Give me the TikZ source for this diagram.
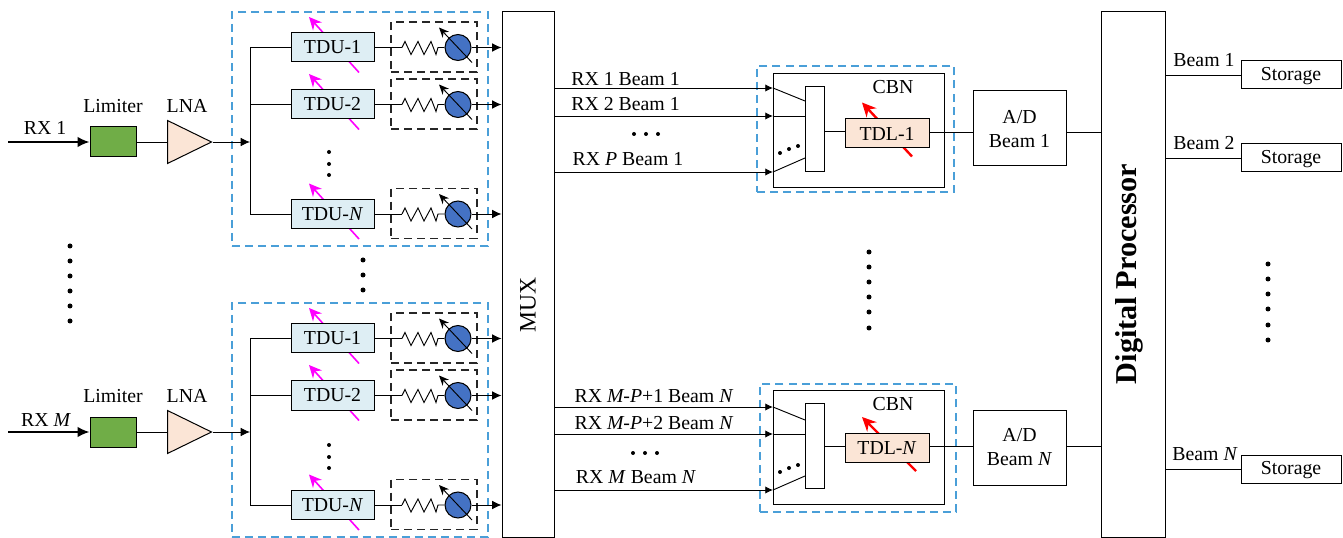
\documentclass[tikz,border=0pt]{standalone}
\usepackage{fontspec}
\setmainfont{Liberation Serif}
\usetikzlibrary{arrows.meta,shapes.geometric,calc}
\definecolor{blued}{HTML}{4A9FD8}
\definecolor{greenb}{HTML}{70AD47}
\definecolor{peach}{HTML}{FBE5D6}
\definecolor{tdublue}{HTML}{DEEEF4}
\definecolor{psblue}{HTML}{4472C4}
\definecolor{pinkm}{HTML}{FF00FF}
\definecolor{redm}{HTML}{FF0000}
\newcommand{\px}{0.75pt}
\tikzset{
  wire/.style={line width=0.7pt},
  arr/.style={line width=0.7pt,-{Latex[length=7pt,width=6.5pt]}},
  beamarr/.style={line width=0.7pt,-{Latex[length=5.8pt,width=5.5pt]}},
  box/.style={draw,line width=0.75pt,fill=white,inner sep=0pt},
  lbl/.style={inner sep=0pt,font=\fontsize{14.85}{17}\selectfont},
  bluedash/.style={draw=blued,line width=1pt,dash pattern=on 6pt off 3.8pt,inner sep=0pt},
  blackdash/.style={draw=black!85,line width=0.8pt,dash pattern=on 6pt off 3.8pt,inner sep=0pt},
  tdubox/.style={box,fill=tdublue,minimum width=83*\px,minimum height=29*\px,font=\fontsize{14.85}{17}\selectfont},
  tdlbox/.style={box,fill=peach,minimum width=84*\px,minimum height=29*\px,font=\fontsize{14.85}{17}\selectfont},
  storebox/.style={box,minimum width=100*\px,minimum height=28*\px,text height=10pt,text depth=1.8pt,font=\fontsize{14.85}{17}\selectfont},
  adbox/.style={box,minimum width=93*\px,minimum height=75*\px},
  pinkarrow/.style={draw=pinkm,line width=1.2pt,-{Stealth[length=9.5pt,width=9pt]}},
  redarrow/.style={draw=redm,line width=1.8pt,-{Stealth[length=10.5pt,width=10pt]}},
  tuner/.style={draw=black,line width=0.7pt,-{Stealth[length=7.5pt,width=6.5pt]}},
  dotm/.style={circle,fill=black,minimum size=5*\px,inner sep=0pt},
  dots/.style={circle,fill=black,minimum size=4*\px,inner sep=0pt},
}
\newcommand{\dotsat}[1]{\foreach \dx/\dy in {#1}{\node[dotm] (dot\dx-\dy) at (\dx,\dy) {};}}
\newcommand{\smalldotsat}[1]{\foreach \dx/\dy in {#1}{\node[dots] (sdot\dx-\dy) at (\dx,\dy) {};}}
% one branch: #1 name, #2 y, #3 label, #4 bus coordinate
\newcommand{\branch}[4]{
  \coordinate (#1pa) at (359,#2+25);
  \coordinate (#1pb) at (309,#2-30.5);
  \draw[pinkarrow] (#1pa) -- (#1pb);
  \node[tdubox] (#1tdu) at (332.5,#2) {#3};
  \node[blackdash,minimum width=86*\px,minimum height=50*\px] (#1psbox) at (434,#2-0.5) {};
  \node[circle,draw,line width=0.8pt,fill=psblue,minimum size=26*\px,inner sep=0pt] (#1ps) at (458,#2) {};
  \coordinate (#1ra) at (402,#2);
  \coordinate (#1rb) at (438,#2);
  \coordinate (#1ta) at (472,#2+15);
  \coordinate (#1tb) at (439,#2-20);
  \draw[wire] (#1tdu.east) -- (#1ra);
  \draw[wire] (#1ra) -- ++(3,-6) -- ++(6,13) -- ++(7,-13) -- ++(6,13) -- ++(7,-13) -- ++(5,13) -- (#1rb) -- (#1ps.west);
  \draw[tuner] (#1ta) -- (#1tb);
  \draw[arr] (#1ps.east) -- (#1ps.east -| mux.west);
  \draw[wire] (#1tdu.west) -- (#1tdu.west -| #4);
}
% one receiver: #1 name, #2 chain y, #3 y shift of the TDU group, #4 label, #5 label position
\newcommand{\receiver}[5]{
  \node[bluedash,minimum width=256*\px,minimum height=234*\px] (#1group) at (360,129+#3) {};
  \node[box,fill=greenb,minimum width=46*\px,minimum height=30*\px] (#1lim) at (113,#2) {};
  \node[isosceles triangle,isosceles triangle stretches,shape border rotate=0,draw,line width=0.75pt,fill=peach,inner sep=0pt,minimum width=43*\px,minimum height=44*\px,anchor=lower side] (#1lna) at (167,#2) {};
  \coordinate (#1in) at (8,#2);
  \coordinate (#1bus) at (250,#2);
  \coordinate (#1bust) at (250,47.5+#3);
  \coordinate (#1busb) at (250,214+#3);
  \draw[line width=1.3pt,-{Latex[length=9pt,width=8pt]}] (#1in) -- (#1lim.west);
  \draw[wire] (#1lim.east) -- (#1lna.lower side);
  \draw[arr] (#1lna.apex) -- (#1bus);
  \draw[wire] (#1bust) -- (#1busb);
  \node[lbl] (#1limlab) at (113,#2-36) {Limiter};
  \node[lbl] (#1lnalab) at (187,#2-36) {LNA};
  \node[lbl] (#1rxlab) at (#5) {#4};
  \branch{#1a}{47.5+#3}{TDU-1}{#1bus}
  \branch{#1b}{104.5+#3}{TDU-2}{#1bus}
  \branch{#1c}{214+#3}{TDU-\textit{N}}{#1bus}
}
% one combiner: #1 name, #2 #3 #4 input y, #5 box top y, #6 TDL y, #7 label, #8 red arrow tail x
\newcommand{\combiner}[8]{
  \node[box,minimum width=171*\px,minimum height=114*\px,anchor=north west] (#1cbn) at (773,#5) {};
  \coordinate (#1ia) at (773,#2);
  \coordinate (#1ib) at (773,#3);
  \coordinate (#1ic) at (773,#4);
  \node[box,minimum width=19*\px,minimum height=85*\px,anchor=north west] (#1nar) at (805,#5+13) {};
  \coordinate (#1oa) at (805,#2+13);
  \coordinate (#1ob) at (805,#3);
  \coordinate (#1oc) at (805,#4-14);
  \draw[wire] (#1ia) -- (#1oa);
  \draw[wire] (#1ib) -- (#1ob);
  \draw[wire] (#1ic) -- (#1oc);
  \draw[beamarr] (#1ia -| mux.east) -- (#1ia);
  \draw[beamarr] (#1ib -| mux.east) -- (#1ib);
  \draw[beamarr] (#1ic -| mux.east) -- (#1ic);
  \coordinate (#1ra) at (#8,#6+23);
  \coordinate (#1rb) at (862,#6-31);
  \draw[redarrow] (#1ra) -- (#1rb);
  \node[tdlbox] (#1tdl) at (887,#6) {#7};
  \draw[wire] ($(#1nar.east |- #1tdl.west)+(0,-2)$) -- ($(#1tdl.west)+(0,-2)$);
  \coordinate (#1out) at ($(#1tdl.east)+(0,-1.5)$);
  \node[lbl] (#1cbnlab) at (893,#5+14) {CBN};
}
\begin{document}
\begin{tikzpicture}[x=0.75pt,y=-0.75pt]
\useasboundingbox (0,0) rectangle (1343,538);
\node[box,minimum width=52*\px,minimum height=525*\px] (mux) at (528,274.5) {};
\node[lbl,rotate=90,font=\fontsize{17.7}{20}\selectfont] (muxlab) at (528,305) {MUX};
\node[box,minimum width=64*\px,minimum height=525*\px] (dsp) at (1133,274.5) {};
\node[lbl,rotate=90,font=\fontsize{22.7}{26}\selectfont\bfseries] (dsplab) at (1129,274) {Digital Processor};

\receiver{u}{142}{0}{RX 1}{45,128}
\receiver{l}{432}{291}{RX \textit{M}}{46,420}

\smalldotsat{329/152,329/164,329/175, 329/445,329/457,329/468}
\dotsat{70/246,70/261,70/276,70/291,70/306,70/321}
\dotsat{363/260,363/275,363/290}

% combiners
\node[bluedash,minimum width=197*\px,minimum height=126*\px] (ugroup2) at (855.5,129) {};
\node[bluedash,minimum width=196*\px,minimum height=128*\px] (lgroup2) at (858,448) {};
\combiner{uc}{88}{116}{172}{73}{133.5}{TDL-1}{912}
\combiner{lc}{407}{434}{490}{390}{448}{TDL-\textit{N}}{916}
\smalldotsat{780/153,789/149,798/146, 780/472,789/468,798/465}

\node[lbl] (lab1) at (625.5,79) {RX 1 Beam 1};
\node[lbl] (lab2) at (625.5,104) {RX 2 Beam 1};
\node[lbl] (lab3) at (628,159) {RX \textit{P} Beam 1};
\smalldotsat{634/134,646/134,658/134}
\node[lbl] (lab4) at (654,396) {RX \textit{M-P}+1 Beam \textit{N}};
\node[lbl] (lab5) at (654,423) {RX \textit{M-P}+2 Beam \textit{N}};
\node[lbl] (lab6) at (636,477) {RX \textit{M} Beam \textit{N}};
\smalldotsat{633/453,645/453,657/453}

% A/D
\node[adbox] (ad1) at (1019.5,128.5) {};
\node[lbl] (ad1a) at (1019.5,117) {A/D};
\node[lbl] (ad1b) at (1019.5,141) {Beam 1};
\node[adbox] (ad2) at (1019.5,447.5) {};
\node[lbl] (ad2a) at (1019.5,435) {A/D};
\node[lbl] (ad2b) at (1019.5,459) {Beam \textit{N}};
\draw[wire] (ucout) -- (ucout -| ad1.west);
\draw[wire] (lcout) -- (lcout -| ad2.west);
\draw[wire] (ad1.east |- ucout) -- (dsp.west |- ucout);
\draw[wire] (ad2.east |- lcout) -- (dsp.west |- lcout);

\dotsat{869/252,869/267,869/282,869/297,869/312,869/328}
\dotsat{1268/264,1268/279,1268/294,1268/309,1268/325,1268/340}

% storage
\node[storebox] (s1) at (1291,75) {Storage};
\node[storebox] (s2) at (1291,158) {Storage};
\node[storebox] (s3) at (1291,469) {Storage};
\draw[wire] (dsp.east |- s1.west) -- (s1.west);
\draw[wire] (dsp.east |- s2.west) -- (s2.west);
\draw[wire] (dsp.east |- s3.west) -- (s3.west);
\node[lbl] (b1) at (1204,60) {Beam 1};
\node[lbl] (b2) at (1204,143) {Beam 2};
\node[lbl] (b3) at (1205,454) {Beam \textit{N}};
\end{tikzpicture}
\end{document}
